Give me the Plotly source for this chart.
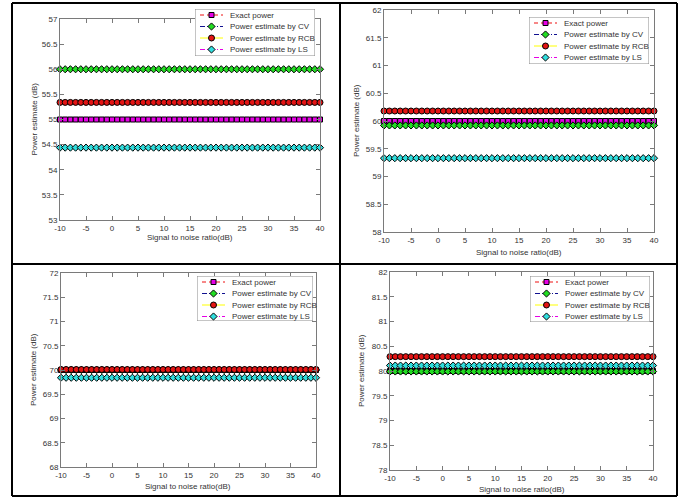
import plotly.graph_objects as go

# -------------------------------------------------
# Data
# -------------------------------------------------
snr = [-10, -9, -8, -7, -6, -5, -4, -3, -2, -1, 0, 1, 2, 3, 4, 5, 6, 7, 8, 9,
       10, 11, 12, 13, 14, 15, 16, 17, 18, 19, 20, 21, 22, 23, 24, 25, 26, 27,
       28, 29, 30, 31, 32, 33, 34, 35, 36, 37, 38, 39, 40]

x_tick_vals = [-10, -5, 0, 5, 10, 15, 20, 25, 30, 35, 40]
x_tick_text = ["-10", "-5", "0", "5", "10", "15", "20", "25", "30", "35", "40"]

series_names = [
    "Exact power",
    "Power estimate by CV",
    "Power estimate by RCB",
    "Power estimate by LS",
]

# one level per panel (TL, TR, BL, BR) -- every curve is flat over SNR
exact_power = [55.0, 60.0, 70.0, 80.0]
cv_estimate = [56.0, 59.92, 70.0, 79.99]
rcb_estimate = [55.34, 60.18, 70.01, 80.29]
ls_estimate = [54.44, 59.33, 69.84, 80.11]

y_ranges = [(53, 57), (58, 62), (68, 72), (78, 82)]

# -------------------------------------------------
# Layout helpers (pixel geometry of the 682x497 picture)
# -------------------------------------------------
W, H = 682, 497
FONT = "Arial, Liberation Sans, sans-serif"
AX_COLOR = "#7a7a7a"
TXT_COLOR = "#333333"


def fx(px):
    return px / W


def fy(py):
    return 1 - py / H


# axes box (x0, x1, y0, y1), y-title x, x-title y, legend box (x0, x1, y0, y1)
panels = [
    dict(ax=(60, 320, 19, 220), ytitle_x=34, xtitle_y=237, legend=(195, 315, 9, 56)),
    dict(ax=(384, 654, 10, 232), ytitle_x=356, xtitle_y=252, legend=(529, 649, 17, 64)),
    dict(ax=(61, 316, 273, 467), ytitle_x=33, xtitle_y=486, legend=(197, 313, 276, 321)),
    dict(ax=(390, 653, 272, 470), ytitle_x=361, xtitle_y=489, legend=(530, 650, 276, 322)),
]

styles = [
    dict(line=dict(color="#ee1111", dash="4px,3px", width=1),
         marker=dict(symbol="square", size=5, color="#e600e6",
                     line=dict(color="black", width=1))),
    dict(line=dict(color="#101090", dash="5px,2px,1px,2px", width=1),
         marker=dict(symbol="diamond", size=5.5, color="#22dd22",
                     line=dict(color="black", width=1))),
    dict(line=dict(color="#ffff00", width=1),
         marker=dict(symbol="circle", size=6, color="#e31414",
                     line=dict(color="black", width=1))),
    dict(line=dict(color="#e600e6", dash="5px,2px,1px,2px", width=1),
         marker=dict(symbol="diamond", size=5.5, color="#30dede",
                     line=dict(color="black", width=1))),
]

fig = go.Figure()
layout = dict(
    width=W, height=H,
    margin=dict(l=0, r=0, t=0, b=0),
    paper_bgcolor="white", plot_bgcolor="white",
    showlegend=False,
    font=dict(family=FONT, size=8, color=TXT_COLOR),
)
annotations = []
shapes = []

levels = [exact_power, cv_estimate, rcb_estimate, ls_estimate]

for p, panel in enumerate(panels):
    n = p + 1
    xa = "x" if n == 1 else f"x{n}"
    ya = "y" if n == 1 else f"y{n}"
    x0, x1, y0, y1 = panel["ax"]

    # series
    for s, name in enumerate(series_names):
        fig.add_trace(
            go.Scatter(
                x=snr,
                y=[levels[s][p]] * len(snr),
                mode="lines+markers",
                name=name,
                line=styles[s]["line"],
                marker=styles[s]["marker"],
                xaxis=xa, yaxis=ya,
                cliponaxis=False,
            )
        )

    axis_common = dict(
        showline=True, linecolor=AX_COLOR, linewidth=1, mirror="ticks",
        ticks="inside", ticklen=4, tickcolor=AX_COLOR,
        showgrid=False, zeroline=False, automargin=False,
        tickfont=dict(family=FONT, size=8, color=TXT_COLOR),
        fixedrange=True,
    )
    layout[f"xaxis{'' if n == 1 else n}"] = dict(
        axis_common, domain=[fx(x0), fx(x1)], range=[-10, 40],
        tickvals=x_tick_vals, ticktext=x_tick_text, anchor=ya,
    )
    layout[f"yaxis{'' if n == 1 else n}"] = dict(
        axis_common, domain=[fy(y1), fy(y0)], range=list(y_ranges[p]),
        tick0=y_ranges[p][0], dtick=0.5, anchor=xa,
    )

    annotations.append(dict(
        x=fx((x0 + x1) / 2), y=fy(panel["xtitle_y"]), xref="paper", yref="paper",
        text="Signal to noise ratio(dB)", showarrow=False,
        xanchor="center", yanchor="middle", font=dict(size=8, color=TXT_COLOR),
    ))
    annotations.append(dict(
        x=fx(panel["ytitle_x"]), y=fy((y0 + y1) / 2), xref="paper", yref="paper",
        text="Power estimate (dB)", showarrow=False, textangle=-90,
        xanchor="center", yanchor="middle", font=dict(size=8, color=TXT_COLOR),
    ))

    # hand-built legend on a hidden helper axis (MATLAB-style compact rows)
    ln = n + 4
    lxa, lya = f"x{ln}", f"y{ln}"
    lx0, lx1, ly0, ly1 = panel["legend"]
    lw, lh = lx1 - lx0, ly1 - ly0
    layout[f"xaxis{ln}"] = dict(domain=[fx(lx0), fx(lx1)], range=[0, lw],
                                visible=False, fixedrange=True, anchor=lya)
    layout[f"yaxis{ln}"] = dict(domain=[fy(ly1), fy(ly0)], range=[lh, 0],
                                visible=False, fixedrange=True, anchor=lxa)
    shapes.append(dict(type="rect", xref=lxa, yref=lya, x0=0, x1=lw, y0=0, y1=lh,
                       line=dict(color="#8a8a8a", width=1), fillcolor="white",
                       layer="below"))
    for s, name in enumerate(series_names):
        row = 6 + s * 11.5
        fig.add_trace(go.Scatter(x=[5, 28], y=[row, row], mode="lines",
                                 line=styles[s]["line"], xaxis=lxa, yaxis=lya,
                                 hoverinfo="skip"))
        fig.add_trace(go.Scatter(x=[16.5], y=[row], mode="markers",
                                 marker=styles[s]["marker"], xaxis=lxa, yaxis=lya,
                                 hoverinfo="skip", cliponaxis=False))
        annotations.append(dict(
            x=33, y=row, xref=lxa, yref=lya, text=name, showarrow=False,
            xanchor="left", yanchor="middle", font=dict(size=8, color=TXT_COLOR),
        ))

# table grid around the four plots
grid = dict(type="line", xref="paper", yref="paper",
            line=dict(color="black", width=2), layer="above")
for gx in [12, 340, 677]:
    shapes.append(dict(grid, x0=fx(gx), x1=fx(gx), y0=fy(3), y1=fy(496)))
for gy in [3, 264, 496]:
    shapes.append(dict(grid, x0=fx(12), x1=fx(677), y0=fy(gy), y1=fy(gy)))

layout["annotations"] = annotations
layout["shapes"] = shapes
fig.update_layout(**layout)

# drop the page's default body margin so the figure fills the window exactly
fig.write_html(
    "out.html",
    config={"displayModeBar": False},
    post_script="document.body.style.margin='0';document.body.style.overflow='hidden';",
)
